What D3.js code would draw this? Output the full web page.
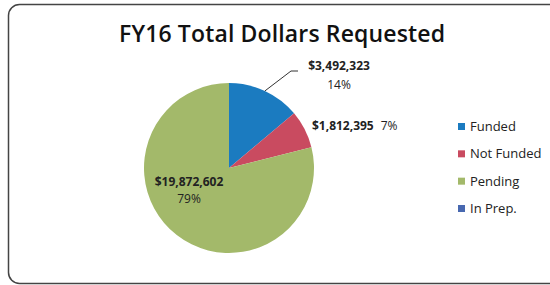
<!DOCTYPE html>
<html>
<head>
<meta charset="utf-8">
<script src="https://cdn.jsdelivr.net/npm/d3@7"></script>
<style>
  body { margin: 0; background: #fff; }
  svg { display: block; font-family: "Open Sans", "Liberation Sans", sans-serif; }
</style>
</head>
<body>
<svg width="550" height="285"></svg>
<script>
var categories = ["Funded", "Not Funded", "Pending", "In Prep."];
var amounts    = [3492323, 1812395, 19872602, 0];
var percents   = ["14%", "7%", "79%", "0%"];
var colors     = ["#1b7bc0", "#c94b60", "#a3b96a", "#4868b0"];

var data = categories.map(function(c, i) {
    return { name: c, value: amounts[i], pct: percents[i], color: colors[i] };
});

var svg = d3.select("svg");
var cx = 229, cy = 168, r = 85;

// frame
svg.append("rect")
    .attr("x", 8.5).attr("y", 4.5)
    .attr("width", 560).attr("height", 279)
    .attr("rx", 11)
    .attr("fill", "#fff").attr("stroke", "#444").attr("stroke-width", 1.5);

// title
svg.append("text")
    .attr("x", 282).attr("y", 42)
    .attr("text-anchor", "middle")
    .attr("font-size", 23).attr("font-weight", 600).attr("fill", "#111")
    .attr("textLength", 326)
    .text("FY16 Total Dollars Requested");

var pie = d3.pie().sort(null).value(d => d.value);
var arc = d3.arc().innerRadius(0).outerRadius(r);
var arcs = pie(data);

var g = svg.append("g").attr("transform", "translate(" + cx + "," + cy + ")");
g.selectAll("path")
    .data(arcs.filter(d => d.data.value > 0))
    .enter().append("path")
    .attr("d", arc)
    .attr("fill", d => d.data.color);

var fmt = d3.format("$,");

// Funded label with leader
var a0 = arcs[0];
var mid0 = (a0.startAngle + a0.endAngle) / 2;
var p0 = [cx + Math.sin(mid0) * r, cy - Math.cos(mid0) * r];
svg.append("polyline")
    .attr("points", [p0, [291, 71], [298, 71]].map(p => p.join(",")).join(" "))
    .attr("fill", "none").attr("stroke", "#333").attr("stroke-width", 1);
svg.append("text")
    .attr("x", 339).attr("y", 70).attr("text-anchor", "middle")
    .attr("font-size", 12).attr("font-weight", "bold").attr("fill", "#222")
    .text(fmt(data[0].value));
svg.append("text")
    .attr("x", 339).attr("y", 89).attr("text-anchor", "middle")
    .attr("font-size", 12).attr("fill", "#222")
    .text(data[0].pct);

// Not Funded label
var t1 = svg.append("text")
    .attr("x", 312).attr("y", 130)
    .attr("font-size", 12).attr("fill", "#222");
t1.append("tspan").attr("font-weight", "bold").text(fmt(data[1].value));
t1.append("tspan").attr("dx", 7).text(data[1].pct);

// Pending label inside
svg.append("text")
    .attr("x", 189).attr("y", 186).attr("text-anchor", "middle")
    .attr("font-size", 12).attr("font-weight", "bold").attr("fill", "#222")
    .text(fmt(data[2].value));
svg.append("text")
    .attr("x", 189).attr("y", 203).attr("text-anchor", "middle")
    .attr("font-size", 12).attr("fill", "#222")
    .text(data[2].pct);

// legend
var ly = d3.scalePoint().domain(categories).range([131, 213]);
var leg = svg.append("g").selectAll("g")
    .data(data).enter().append("g")
    .attr("transform", d => "translate(458," + ly(d.name) + ")");
leg.append("rect")
    .attr("x", 0).attr("y", -8).attr("width", 7).attr("height", 7)
    .attr("fill", d => d.color);
leg.append("text")
    .attr("x", 12).attr("y", 0)
    .attr("font-size", 13).attr("fill", "#222")
    .text(d => d.name);
</script>
</body>
</html>
